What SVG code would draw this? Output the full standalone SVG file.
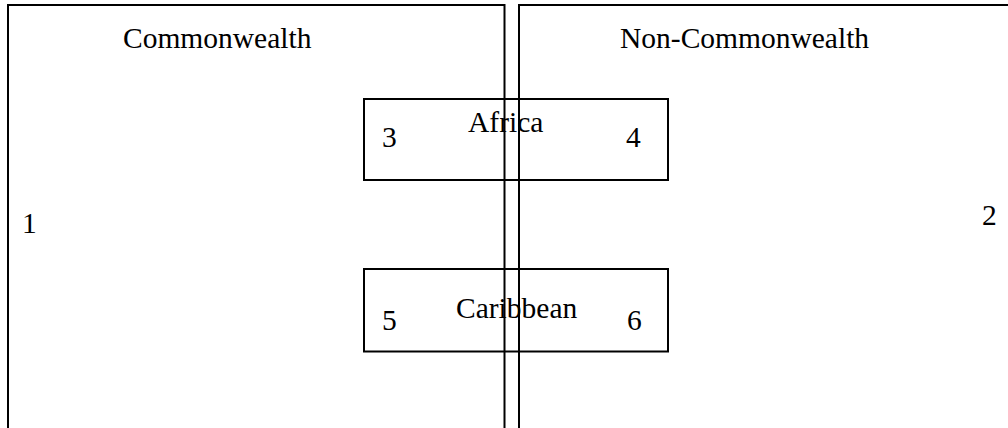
<svg xmlns="http://www.w3.org/2000/svg" width="1008" height="428" viewBox="0 0 1008 428">
  <style>
    .frame { fill: none; stroke: #000; stroke-width: 2; }
    .lbl { font-family: "Liberation Serif", "Times New Roman", serif; font-size: 29.5px; fill: #000; }
  </style>
  <rect width="1008" height="428" fill="#fff"/>
  <g id="commonwealth">
    <rect class="frame" x="8" y="5" width="496.5" height="440"/>
    <text class="lbl" x="123" y="48">Commonwealth</text>
    <text class="lbl" x="22" y="233">1</text>
  </g>
  <g id="non-commonwealth">
    <rect class="frame" x="519" y="5" width="520" height="440"/>
    <text class="lbl" x="620" y="48">Non-Commonwealth</text>
    <text class="lbl" x="982" y="225">2</text>
  </g>
  <g id="africa">
    <rect class="frame" x="364" y="99" width="304" height="81"/>
    <text class="lbl" x="468" y="132">Africa</text>
    <text class="lbl" x="382" y="147">3</text>
    <text class="lbl" x="626" y="147">4</text>
  </g>
  <g id="caribbean">
    <rect class="frame" x="364" y="269" width="304" height="82.5"/>
    <text class="lbl" x="456" y="318">Caribbean</text>
    <text class="lbl" x="382" y="330">5</text>
    <text class="lbl" x="627" y="330">6</text>
  </g>
  <g id="connectors"/>
</svg>
